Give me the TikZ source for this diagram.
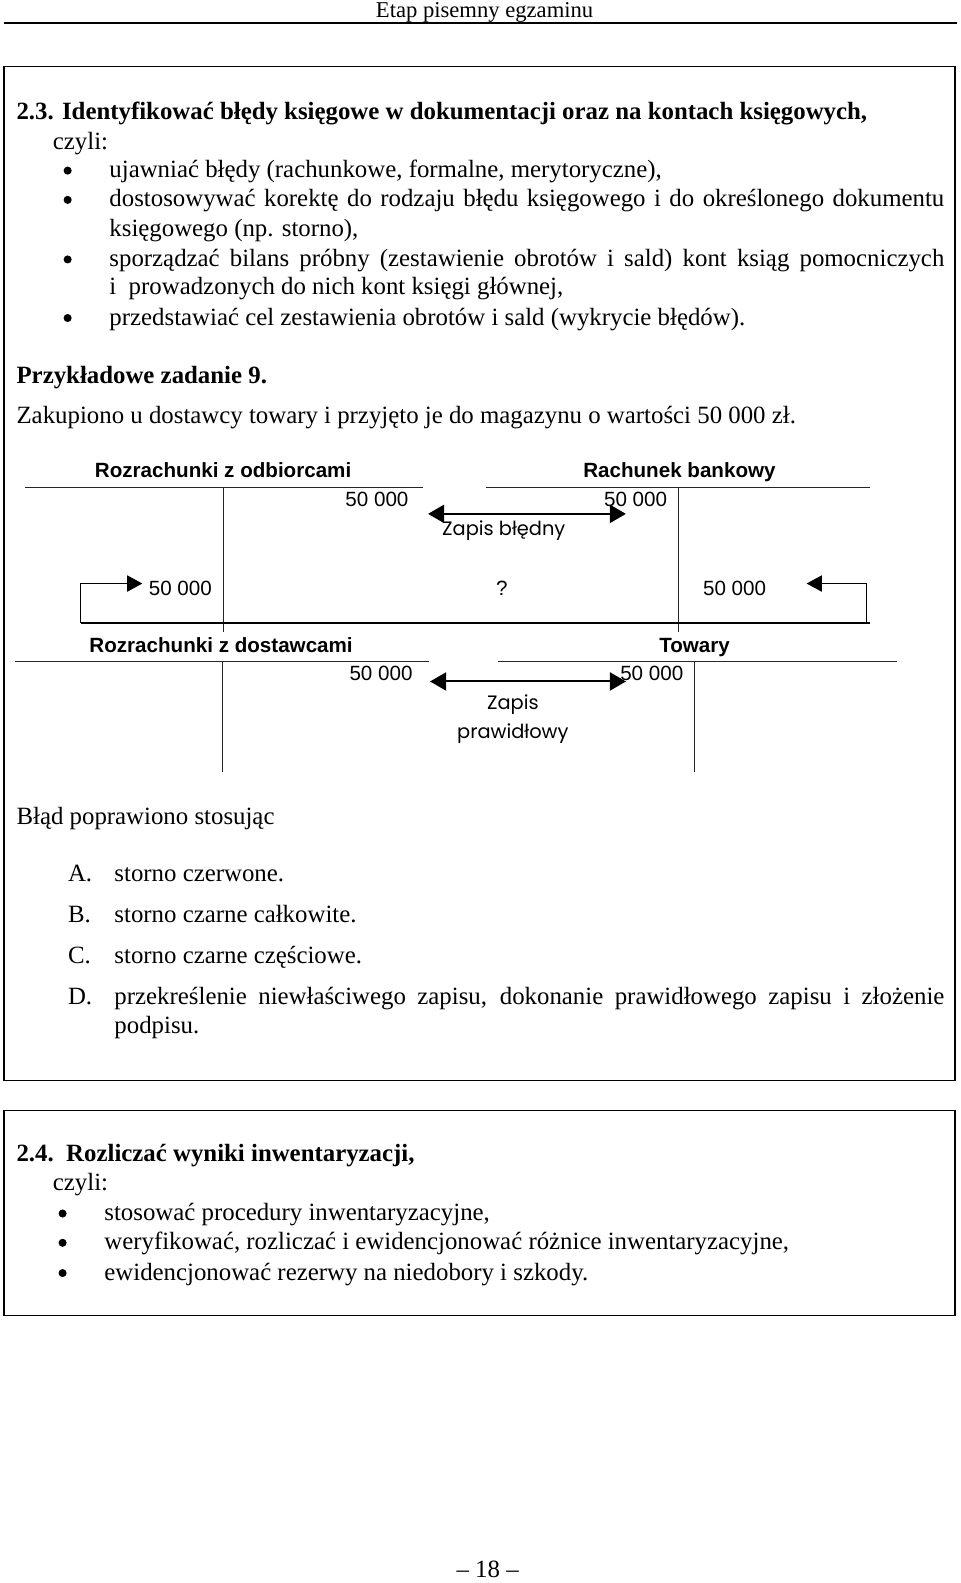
\documentclass[tikz,border=0pt]{standalone}
\usepackage{fontspec}
\setmainfont{Liberation Serif}
\setsansfont{Liberation Sans}
\newfontfamily\recznie{Poppins}
\usetikzlibrary{arrows.meta,positioning}

\tikzset{
  tekst/.style={anchor=base west, inner sep=0pt, font=\fontsize{12.3}{14}\selectfont},
  naglowek/.style={tekst, font=\fontsize{12.3}{14}\selectfont\bfseries},
  konto/.style={anchor=base, inner sep=0pt, font=\sffamily\bfseries\fontsize{10.2}{12}\selectfont},
  kwota/.style={inner sep=0pt, font=\sffamily\fontsize{10.2}{12}\selectfont},
  opis/.style={align=center, inner sep=0pt, font=\recznie\fontsize{9.6}{14.5}\selectfont},
  linia/.style={line width=0.75pt, black!85},
  pion/.style={line width=0.5pt, black!85},
  strzalka/.style={line width=1pt, {Triangle[length=8pt,width=9pt]}-{Triangle[length=8pt,width=9pt]}},
  klamra/.style={line width=0.6pt, -{Triangle[length=7.5pt,width=8pt]}},
  ramka/.style={line width=0.6pt},
  kropka/.style={circle, fill, inner sep=0pt, minimum size=4pt}
}

\begin{document}
\begin{tikzpicture}[x=0.5pt, y=-0.5pt]
    \useasboundingbox (0,0) rectangle (951,1568);

    % Page header
    \node[anchor=base, inner sep=0pt, font=\fontsize{11.2}{13}\selectfont] (etap) at (480,17) {Etap pisemny egzaminu};
    \draw[line width=1pt] (4,23) -- (948,23);

    % Box 2.3
    \draw[ramka] (4,66) rectangle (946,1070);
    \node[naglowek] (h23) at (16,118) {2.3. Identyfikować błędy księgowe w dokumentacji oraz na kontach księgowych,};
    \node[tekst] (czyli1) at (52,148) {czyli:};
    \foreach \y in {169,198,257,315}
        \node[kropka] at (67,\y) {};
    \node[tekst] (p1) at (108,176) {ujawniać błędy (rachunkowe, formalne, merytoryczne),};
    \node[tekst] (p2) at (108,205) {\makebox[413.5pt][s]{dostosowywać korektę do rodzaju błędu księgowego i do określonego dokumentu}};
    \node[tekst] (p2b) at (108,234) {księgowego (np. storno),};
    \node[tekst] (p3) at (108,264) {\makebox[413.5pt][s]{sporządzać bilans próbny (zestawienie obrotów i sald) kont ksiąg pomocniczych}};
    \node[tekst] (p3b) at (108,292) {i\ \ prowadzonych do nich kont księgi głównej,};
    \node[tekst] (p4) at (108,322) {przedstawiać cel zestawienia obrotów i sald (wykrycie błędów).};

    \node[naglowek] (zad) at (16,380) {Przykładowe zadanie 9.};
    \node[tekst] (tresc) at (16,419) {Zakupiono u dostawcy towary i przyjęto je do magazynu o wartości 50 000 zł.};

    % Upper T-accounts (wrong entry)
    \node[konto] (odb) at (221,473) {Rozrachunki z odbiorcami};
    \draw[linia] (25,483) -- (419,483);
    \draw[pion] (221,483) -- (221,626);
    \node[konto] (bank) at (673,473) {Rachunek bankowy};
    \draw[linia] (481,483) -- (862,483);
    \draw[pion] (672,483) -- (672,626);

    \node[kwota, anchor=base east] (odbMa) at (405,502) {50 000};
    \node[kwota, anchor=base west] (bankWn) at (598,502) {50 000};
    \coordinate (bl1) at (424,509);
    \coordinate (bl2) at (620,509);
    \draw[strzalka] (bl1) -- (bl2);
    \node[opis] (blad) at (499,526) {Zapis błędny};

    \node[kwota, anchor=base west] (odbWn) at (147,590) {50 000};
    \node[kwota, anchor=base] (pyt) at (497,590) {?};
    \node[kwota, anchor=base west] (bankMa) at (696,590) {50 000};

    % Bracket under accounts
    \coordinate (kL) at (80,617);
    \coordinate (kR) at (862,617);
    \coordinate (tipL) at (141,578);
    \coordinate (tipR) at (799,578);
    \draw[line width=1pt] (kL) -- (kR);
    \draw[klamra] (kL) |- (tipL);
    \draw[klamra] ([xshift=-2]kR) |- (tipR);

    % Lower T-accounts (correct entry)
    \node[konto] (dost) at (219,646) {Rozrachunki z dostawcami};
    \draw[linia] (15,655) -- (425,655);
    \draw[pion] (220,655) -- (220,765);
    \node[konto] (tow) at (688,646) {Towary};
    \draw[linia] (493,655) -- (888,655);
    \draw[pion] (688,655) -- (688,765);

    \node[kwota, anchor=base east] (dostMa) at (409,674) {50 000};
    \node[kwota, anchor=base west] (towWn) at (614,674) {50 000};
    \coordinate (pr1) at (426,675);
    \coordinate (pr2) at (620,675);
    \draw[strzalka] (pr1) -- (pr2);
    \node[opis] (prawid) at (508,712) {Zapis\\prawidłowy};

    % Answers
    \node[tekst] (pyt2) at (16,817) {Błąd poprawiono stosując};
    \node[tekst] (oA) at (67,873) {A.};
    \node[tekst] (tA) at (113,873) {storno czerwone.};
    \node[tekst] (oB) at (67,914) {B.};
    \node[tekst] (tB) at (113,914) {storno czarne całkowite.};
    \node[tekst] (oC) at (67,954) {C.};
    \node[tekst] (tC) at (113,954) {storno czarne częściowe.};
    \node[tekst] (oD) at (67,995) {D.};
    \node[tekst] (tD) at (113,995) {\makebox[411pt][s]{przekreślenie niewłaściwego zapisu, dokonanie prawidłowego zapisu i złożenie}};
    \node[tekst] (tDb) at (113,1024) {podpisu.};

    % Box 2.4
    \draw[ramka] (4,1100) rectangle (946,1303);
    \node[naglowek] (h24) at (16,1150) {2.4.\ \ Rozliczać wyniki inwentaryzacji,};
    \node[tekst] (czyli2) at (52,1179) {czyli:};
    \foreach \y in {1202,1231,1261}
        \node[kropka] at (62,\y) {};
    \node[tekst] (q1) at (103,1209) {stosować procedury inwentaryzacyjne,};
    \node[tekst] (q2) at (103,1238) {weryfikować, rozliczać i ewidencjonować różnice inwentaryzacyjne,};
    \node[tekst] (q3) at (103,1268) {ewidencjonować rezerwy na niedobory i szkody.};

    % Page number
    \node[anchor=base, inner sep=0pt, font=\fontsize{12.3}{14}\selectfont] (strona) at (483,1563) {-- 18 --};
\end{tikzpicture}
\end{document}
